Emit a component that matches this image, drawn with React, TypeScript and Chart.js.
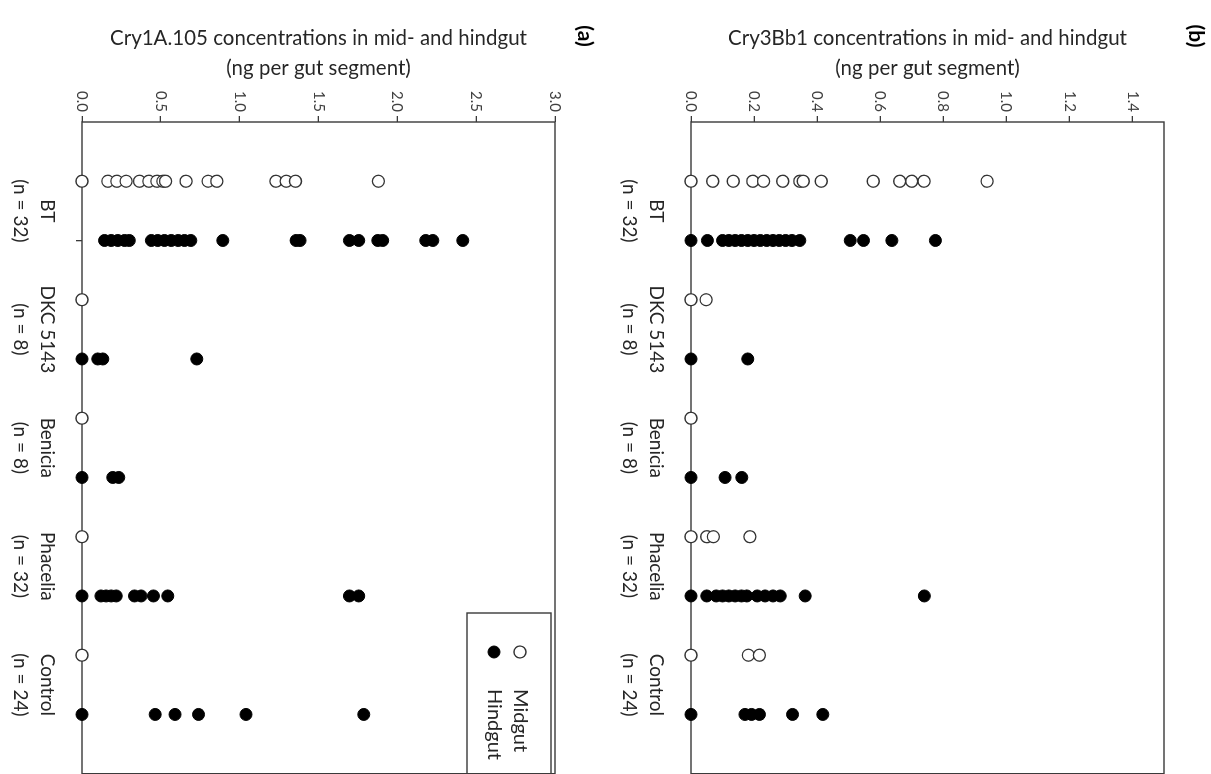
import React, { useEffect, useRef } from 'react';
import { Chart, registerables } from 'chart.js';

Chart.register(...registerables);

const FONT = 'Lato, "Open Sans", "DejaVu Sans", sans-serif';

// ---------- data ----------
const categoryNames = ['BT', 'DKC 5143', 'Benicia', 'Phacelia', 'Control'];
const categoryCounts = ['(n = 32)', '(n = 8)', '(n = 8)', '(n = 32)', '(n = 24)'];
const seriesNames = ['Midgut', 'Hindgut'];

// Panel (a): Cry1A.105
const cry1aTitle = ['Cry1A.105 concentrations in mid- and hindgut', '(ng per gut segment)'];
const cry1aTicks = [0, 0.5, 1.0, 1.5, 2.0, 2.5, 3.0];
const cry1aMax = 3.0;
const cry1aMidgut = [
  [0, 0.164, 0.221, 0.28, 0.365, 0.424, 0.475, 0.513, 0.53, 0.66, 0.8, 0.855, 1.23, 1.295, 1.354, 1.88],
  [0],
  [0],
  [0],
  [0],
];
const cry1aHindgut = [
  [0.143, 0.185, 0.227, 0.27, 0.3, 0.44, 0.48, 0.523, 0.566, 0.61, 0.65, 0.69, 0.893, 1.358, 1.383, 1.696, 1.755, 1.876, 1.907, 2.18, 2.225, 2.415],
  [0, 0.1, 0.132, 0.728],
  [0, 0.195, 0.233],
  [0, 0.12, 0.153, 0.185, 0.217, 0.333, 0.375, 0.453, 0.544, 1.696, 1.755],
  [0, 0.464, 0.59, 0.739, 1.04, 1.787],
];

// Panel (b): Cry3Bb1
const cry3Title = ['Cry3Bb1 concentrations in mid- and hindgut', '(ng per gut segment)'];
const cry3Ticks = [0, 0.2, 0.4, 0.6, 0.8, 1.0, 1.2, 1.4];
const cry3Max = 1.5;
const cry3Midgut = [
  [0, 0.069, 0.134, 0.196, 0.23, 0.291, 0.345, 0.356, 0.413, 0.578, 0.662, 0.7, 0.739, 0.939],
  [0, 0.048],
  [0],
  [0, 0.05, 0.071, 0.187],
  [0, 0.182, 0.217],
];
const cry3Hindgut = [
  [0, 0.052, 0.1, 0.12, 0.14, 0.16, 0.18, 0.2, 0.22, 0.24, 0.26, 0.28, 0.3, 0.32, 0.345, 0.505, 0.547, 0.637, 0.775],
  [0, 0.18],
  [0, 0.108, 0.161],
  [0, 0.05, 0.08, 0.1, 0.12, 0.14, 0.16, 0.177, 0.21, 0.235, 0.26, 0.283, 0.362, 0.74],
  [0, 0.171, 0.192, 0.217, 0.322, 0.418],
];

// ---------- helpers ----------
const buildPoints = (groups: number[][], offset: number) =>
  groups.flatMap((vals, i) => vals.map((v) => ({ x: i * 2 + offset, y: v })));

const AXIS_COLOR = '#3a3a3a';

const framePlugin = {
  id: 'frame',
  beforeDatasetsDraw(chart: any) {
    const { ctx, chartArea } = chart;
    ctx.save();
    ctx.strokeStyle = AXIS_COLOR;
    ctx.lineWidth = 1.4;
    ctx.strokeRect(chartArea.left, chartArea.top, chartArea.right - chartArea.left, chartArea.bottom - chartArea.top);
    ctx.restore();
  },
};

const tagPlugin = {
  id: 'panelTag',
  afterDraw(chart: any, _args: any, opts: any) {
    if (!opts || !opts.text) return;
    const { ctx } = chart;
    ctx.save();
    ctx.fillStyle = '#000';
    ctx.font = `bold 21px ${FONT}`;
    ctx.textAlign = 'center';
    ctx.textBaseline = 'middle';
    ctx.fillText(opts.text, opts.x, opts.y);
    ctx.restore();
  },
};

const boxLegendPlugin = {
  id: 'boxLegend',
  afterDraw(chart: any, _args: any, opts: any) {
    if (!opts || !opts.show) return;
    const { ctx, chartArea } = chart;
    const left = opts.left;
    const right = chartArea.right;
    const top = chartArea.top + opts.offsetTop;
    const bottom = top + opts.height;
    ctx.save();
    ctx.fillStyle = '#fff';
    ctx.fillRect(left, top, right - left, bottom - top);
    ctx.strokeStyle = AXIS_COLOR;
    ctx.lineWidth = 1.4;
    ctx.strokeRect(left, top, right - left, bottom - top);
    chart.data.datasets.forEach((ds: any, i: number) => {
      const cy = top + opts.firstRow + i * opts.rowGap;
      ctx.beginPath();
      ctx.arc(opts.markerX, cy, ds.pointRadius, 0, Math.PI * 2);
      ctx.fillStyle = ds.pointBackgroundColor;
      ctx.fill();
      ctx.lineWidth = ds.pointBorderWidth;
      ctx.strokeStyle = ds.pointBorderColor;
      ctx.stroke();
      ctx.fillStyle = '#262626';
      ctx.font = `20px ${FONT}`;
      ctx.textAlign = 'left';
      ctx.textBaseline = 'middle';
      ctx.fillText(ds.label, opts.textX, cy);
    });
    ctx.restore();
  },
};

type PanelSpec = {
  title: string[];
  ticks: number[];
  max: number;
  midgut: number[][];
  hindgut: number[][];
  tag: string;
  tagY: number;
  topPad: number;
  xAxisHeight: number;
  legend: boolean;
};

const CANVAS_W = 781;
const CANVAS_H = 605;

function Panel({ spec, top }: { spec: PanelSpec; top: number }) {
  const ref = useRef<HTMLCanvasElement | null>(null);
  useEffect(() => {
    if (!ref.current) return;
    const slotTicks: number[] = [];
    categoryNames.forEach((_, i) => {
      slotTicks.push(i * 2 + 1, i * 2 + 1.5, i * 2 + 2);
    });
    const chart = new Chart(ref.current, {
      type: 'scatter',
      data: {
        datasets: [
          {
            label: seriesNames[0],
            data: buildPoints(spec.midgut, 1),
            pointRadius: 6,
            pointBackgroundColor: '#ffffff',
            pointBorderColor: '#333333',
            pointBorderWidth: 1.3,
            showLine: false,
            clip: false,
          } as any,
          {
            label: seriesNames[1],
            data: buildPoints(spec.hindgut, 2),
            pointRadius: 6,
            pointBackgroundColor: '#000000',
            pointBorderColor: '#000000',
            pointBorderWidth: 1,
            showLine: false,
            clip: false,
          } as any,
        ],
      },
      options: {
        responsive: false,
        animation: false,
        events: [],
        layout: { padding: { top: spec.topPad, right: 1, left: 0, bottom: 0 } },
        plugins: {
          legend: { display: false },
          tooltip: { enabled: false },
          panelTag: { text: spec.tag, x: 36, y: spec.tagY },
          boxLegend: {
            show: spec.legend,
            left: 613,
            offsetTop: 4,
            height: 84,
            firstRow: 31,
            rowGap: 26,
            markerX: 652,
            textX: 689,
          },
        } as any,
        scales: {
          x: {
            type: 'linear',
            position: 'bottom',
            min: 0,
            max: categoryNames.length * 2 + 1,
            afterBuildTicks: (scale: any) => {
              scale.ticks = slotTicks.map((v) => ({ value: v }));
            },
            afterFit: (scale: any) => {
              scale.height = spec.xAxisHeight;
            },
            border: { display: false },
            grid: {
              display: true,
              drawOnChartArea: false,
              drawTicks: true,
              tickLength: 6,
              lineWidth: 1.3,
              tickColor: (ctx: any) => (ctx.tick && ctx.tick.value % 1 === 0 ? AXIS_COLOR : 'rgba(0,0,0,0)'),
            },
            ticks: {
              autoSkip: false,
              maxRotation: 0,
              minRotation: 0,
              padding: 15,
              color: '#262626',
              font: { family: FONT, size: 19, lineHeight: 1.45 },
              callback: (value: any) => {
                const v = Number(value);
                if (v % 2 === 1.5) {
                  const idx = (v - 1.5) / 2;
                  return [categoryNames[idx], categoryCounts[idx]];
                }
                return '';
              },
            },
          },
          y: {
            type: 'linear',
            position: 'left',
            min: 0,
            max: spec.max,
            afterBuildTicks: (scale: any) => {
              scale.ticks = spec.ticks.map((v) => ({ value: v }));
            },
            afterFit: (scale: any) => {
              scale.width = 122;
            },
            border: { display: false },
            grid: {
              display: true,
              drawOnChartArea: false,
              drawTicks: true,
              tickLength: 6,
              lineWidth: 1.3,
              tickColor: AXIS_COLOR,
            },
            ticks: {
              padding: 4,
              color: '#404040',
              font: { family: FONT, size: 15 },
              callback: (value: any) => Number(value).toFixed(1),
            },
            title: {
              display: true,
              text: spec.title,
              color: '#262626',
              font: { family: FONT, size: 20.5, lineHeight: 1.45 },
              padding: { top: 24, bottom: 0 },
            },
          },
        },
      } as any,
      plugins: [framePlugin, boxLegendPlugin, tagPlugin],
    });
    return () => chart.destroy();
  }, [spec]);
  return (
    <canvas
      ref={ref}
      width={CANVAS_W}
      height={CANVAS_H}
      style={{ position: 'absolute', left: 0, top, width: CANVAS_W, height: CANVAS_H }}
    />
  );
}

const panelB: PanelSpec = {
  title: cry3Title,
  ticks: cry3Ticks,
  max: cry3Max,
  midgut: cry3Midgut,
  hindgut: cry3Hindgut,
  tag: '(b)',
  tagY: 15,
  topPad: 47,
  xAxisHeight: 85,
  legend: false,
};

const panelA: PanelSpec = {
  title: cry1aTitle,
  ticks: cry1aTicks,
  max: cry1aMax,
  midgut: cry1aMidgut,
  hindgut: cry1aHindgut,
  tag: '(a)',
  tagY: 20,
  topPad: 50,
  xAxisHeight: 82,
  legend: true,
};

export default function App() {
  return (
    <div
      style={{
        position: 'fixed',
        left: 0,
        top: 0,
        width: 774,
        height: 1211,
        background: '#fff',
        transformOrigin: '0 0',
        transform: 'translate(1211px, 0px) rotate(90deg)',
        fontFamily: FONT,
      }}
    >
      <Panel spec={panelB} top={0} />
      <Panel spec={panelA} top={606} />
    </div>
  );
}
